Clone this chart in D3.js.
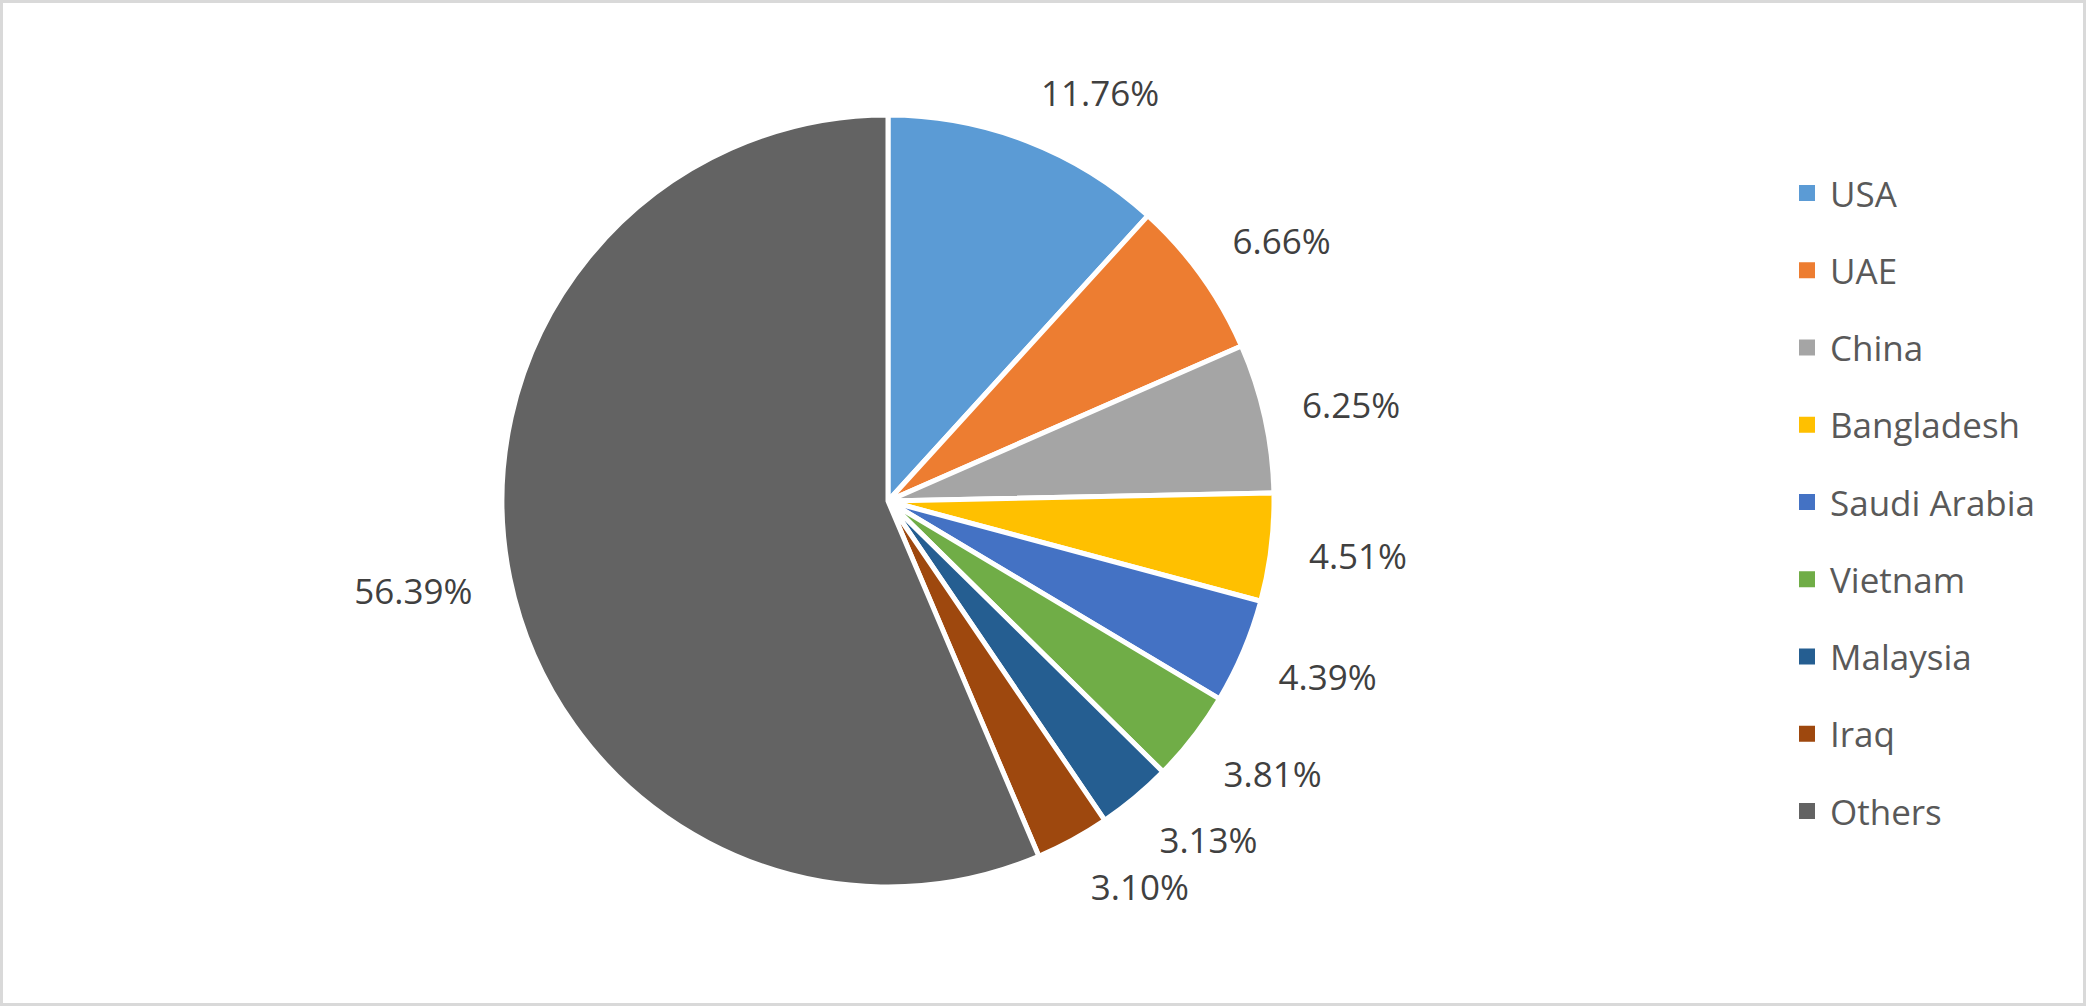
<!DOCTYPE html>
<html>
<head>
<meta charset="utf-8">
<script src="https://cdn.jsdelivr.net/npm/d3@7"></script>
<style>
  body { margin: 0; background: #fff; }
  svg { display: block; }
  text { font-family: "Open Sans", sans-serif; }
</style>
</head>
<body>
<div id="chart"></div>
<script>
// data
const countries = ["USA", "UAE", "China", "Bangladesh", "Saudi Arabia", "Vietnam", "Malaysia", "Iraq", "Others"];
const shares = [11.76, 6.66, 6.25, 4.51, 4.39, 3.81, 3.13, 3.10, 56.39];
const colors = ["#5B9BD5", "#ED7D31", "#A5A5A5", "#FFC000", "#4472C4", "#70AD47", "#255E91", "#9E480E", "#636363"];

const width = 2086;
const height = 1006;
const cx = 888, cy = 501, radius = 386;

const data = countries.map((c, i) => ({ country: c, value: shares[i], color: colors[i] }));

const svg = d3.select('#chart')
  .append('svg')
  .attr('width', width)
  .attr('height', height);

// outer frame
svg.append('rect')
  .attr('x', 1.5)
  .attr('y', 1.5)
  .attr('width', width - 3)
  .attr('height', height - 3)
  .attr('fill', '#fff')
  .attr('stroke', '#d9d9d9')
  .attr('stroke-width', 3);

const pie = d3.pie()
  .value(d => d.value)
  .sort(null);

const arc = d3.arc()
  .innerRadius(0)
  .outerRadius(radius);

const arcs = pie(data);

const g = svg.append('g')
  .attr('transform', `translate(${cx}, ${cy})`);

g.selectAll('path')
  .data(arcs)
  .join('path')
  .attr('d', arc)
  .attr('fill', d => d.data.color)
  .attr('stroke', '#fff')
  .attr('stroke-width', 5)
  .attr('stroke-linejoin', 'round');

// outside-end labels, box placed next to the point beyond the arc
const clamp = v => Math.max(-1, Math.min(1, v));
const labels = g.selectAll('text.lbl')
  .data(arcs)
  .join('text')
  .attr('class', 'lbl')
  .attr('text-anchor', 'middle')
  .attr('dominant-baseline', 'central')
  .attr('font-size', 35)
  .attr('fill', '#404040')
  .text(d => d.data.value.toFixed(2) + '%');

labels.each(function(d) {
  const w = this.getComputedTextLength();
  const h = 26;
  const a = (d.startAngle + d.endAngle) / 2;
  const ux = Math.sin(a), uy = -Math.cos(a);
  const r = radius + 38;
  const x = ux * r + w / 2 * clamp(ux * 3);
  const y = uy * r + h / 2 * clamp(uy * 2);
  d3.select(this).attr('x', x).attr('y', y);
});

// legend
const legendY = d3.scalePoint()
  .domain(countries)
  .range([193, 811]);

const legend = svg.append('g');

const items = legend.selectAll('g')
  .data(data)
  .join('g')
  .attr('transform', d => `translate(1799, ${legendY(d.country)})`);

items.append('rect')
  .attr('x', 0)
  .attr('y', -8)
  .attr('width', 16)
  .attr('height', 16)
  .attr('fill', d => d.color);

items.append('text')
  .attr('x', 31)
  .attr('y', 0)
  .attr('dominant-baseline', 'central')
  .attr('font-size', 35)
  .attr('fill', '#595959')
  .text(d => d.country);
</script>
</body>
</html>
